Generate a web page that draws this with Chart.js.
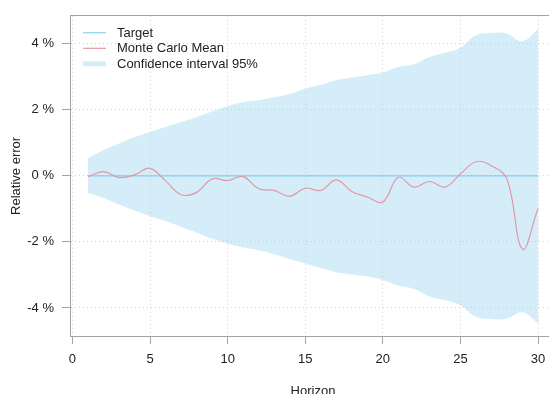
<!DOCTYPE html>
<html>
<head>
<meta charset="utf-8">
<script src="https://cdn.jsdelivr.net/npm/chart.js@4.4.1/dist/chart.umd.min.js"></script>
<style>
  html, body { margin: 0; padding: 0; background: #fff; overflow: hidden; }
  #wrap { width: 549px; height: 394px; overflow: hidden; position: relative; }
  #wrap canvas { position: absolute; left: 0; top: 0; }
</style>
</head>
<body>
<div id="wrap"><canvas id="chart" width="570" height="412"></canvas></div>
<script>
// horizon steps 1..30
const horizon = [1, 2, 3, 4, 5, 6, 7, 8, 9, 10, 11, 12, 13, 14, 15,
                 16, 17, 18, 19, 20, 21, 22, 23, 24, 25, 26, 27, 28, 29, 30];

// relative error, in percent
const target = horizon.map(() => 0);
const mcMean = [-0.02, 0.13, -0.05, 0.03, 0.23, -0.15, -0.57, -0.50, -0.09, -0.14,
                -0.02, -0.39, -0.44, -0.62, -0.37, -0.44, -0.12, -0.47, -0.64, -0.79,
                -0.04, -0.34, -0.17, -0.34, 0.06, 0.43, 0.31, -0.10, -2.22, -0.99];
const ciUpper = [0.53, 0.78, 0.98, 1.17, 1.33, 1.48, 1.63, 1.78, 1.95, 2.11,
                 2.23, 2.29, 2.38, 2.48, 2.64, 2.76, 2.90, 2.98, 3.05, 3.13,
                 3.30, 3.38, 3.60, 3.73, 3.88, 4.26, 4.33, 4.31, 4.08, 4.45];
const ciLower = [-0.52, -0.67, -0.87, -1.05, -1.22, -1.37, -1.55, -1.72, -1.90, -2.05,
                 -2.17, -2.25, -2.37, -2.52, -2.65, -2.79, -2.92, -2.99, -3.05, -3.15,
                 -3.32, -3.42, -3.65, -3.77, -3.92, -4.27, -4.34, -4.32, -4.13, -4.47];

const xTicks = [0, 5, 10, 15, 20, 25, 30];
const yTicks = [-4, -2, 0, 2, 4];

const FONT = { family: '"Liberation Sans", Arial, Helvetica, sans-serif', size: 13 };
const TEXT = '#222';
const AXIS = '#a3a3a3';
const GRID = '#d3d3d3';
const TARGET_COLOR = '#74c6ea';
const MEAN_COLOR = '#e597a6';
const BAND_COLOR = 'rgba(135, 206, 235, 0.36)';

const X_MIN = -0.16, X_MAX = 31.16;
const Y_MIN = -4.85, Y_MAX = 4.85;

const pts = arr => horizon.map((h, i) => ({ x: h, y: arr[i] }));

// legend drawn inside the plot, top-left
const insideLegend = {
    id: 'insideLegend',
    afterDraw(chart) {
        const { ctx, chartArea } = chart;
        const items = [
            { text: chart.data.datasets[1].label, color: TARGET_COLOR, width: 1 },
            { text: chart.data.datasets[0].label, color: MEAN_COLOR, width: 1.2 },
            { text: chart.data.datasets[2].label, color: BAND_COLOR, width: 5 }
        ];
        ctx.save();
        ctx.font = FONT.size + 'px ' + FONT.family;
        ctx.textBaseline = 'middle';
        ctx.textAlign = 'left';
        items.forEach((it, i) => {
            const y = chartArea.top + 17 + i * 15.5;
            const x0 = chartArea.left + 13;
            ctx.strokeStyle = it.color;
            ctx.lineWidth = it.width;
            ctx.beginPath();
            ctx.moveTo(x0, y);
            ctx.lineTo(x0 + 23, y);
            ctx.stroke();
            ctx.fillStyle = TEXT;
            ctx.fillText(it.text, x0 + 34, y + 0.5);
        });
        ctx.restore();
    }
};

const ctx = document.getElementById('chart').getContext('2d');
new Chart(ctx, {
    type: 'line',
    data: {
        datasets: [
            {
                label: 'Monte Carlo Mean',
                data: pts(mcMean),
                borderColor: MEAN_COLOR,
                borderWidth: 1.2,
                pointRadius: 0,
                tension: 0.4,
                fill: false,
                order: 0
            },
            {
                label: 'Target',
                data: pts(target),
                borderColor: TARGET_COLOR,
                borderWidth: 1,
                pointRadius: 0,
                fill: false,
                order: 1
            },
            {
                label: 'Confidence interval 95%',
                data: pts(ciUpper),
                borderWidth: 0,
                borderColor: 'rgba(0,0,0,0)',
                backgroundColor: BAND_COLOR,
                pointRadius: 0,
                tension: 0.4,
                fill: '+1',
                order: 2
            },
            {
                label: 'ci-lower',
                data: pts(ciLower),
                borderWidth: 0,
                borderColor: 'rgba(0,0,0,0)',
                pointRadius: 0,
                tension: 0.4,
                fill: false,
                order: 3
            }
        ]
    },
    options: {
        responsive: false,
        animation: false,
        layout: { padding: { top: 12, right: 14, bottom: 0, left: 0 } },
        plugins: {
            legend: { display: false },
            tooltip: { enabled: false }
        },
        scales: {
            x: {
                type: 'linear',
                min: X_MIN,
                max: X_MAX,
                afterBuildTicks: s => { s.ticks = xTicks.map(v => ({ value: v })); },
                afterFit: s => { s.height = 76; },
                ticks: { font: FONT, color: TEXT, padding: 8, maxRotation: 0, autoSkip: false },
                grid: { color: GRID, tickColor: AXIS, tickLength: 8, lineWidth: 1 },
                border: { color: AXIS, dash: [1, 3] },
                title: {
                    display: true, text: 'Horizon', font: FONT, color: TEXT,
                    padding: { top: 4, bottom: 13 }
                }
            },
            x2: {
                type: 'linear',
                position: 'top',
                min: X_MIN,
                max: X_MAX,
                afterFit: s => { s.height = 0; },
                ticks: { display: false },
                grid: { display: false },
                border: { color: AXIS }
            },
            y: {
                type: 'linear',
                min: Y_MIN,
                max: Y_MAX,
                afterBuildTicks: s => { s.ticks = yTicks.map(v => ({ value: v })); },
                afterFit: s => { s.width = 70; },
                ticks: { font: FONT, color: TEXT, padding: 8, callback: v => v + ' %' },
                grid: { color: GRID, tickColor: AXIS, tickLength: 8, lineWidth: 1 },
                border: { color: AXIS, dash: [1, 3] },
                title: {
                    display: true, text: 'Relative error', font: FONT, color: TEXT,
                    padding: { top: 9, bottom: 0 }
                }
            }
        }
    },
    plugins: [insideLegend]
});
</script>
</body>
</html>
